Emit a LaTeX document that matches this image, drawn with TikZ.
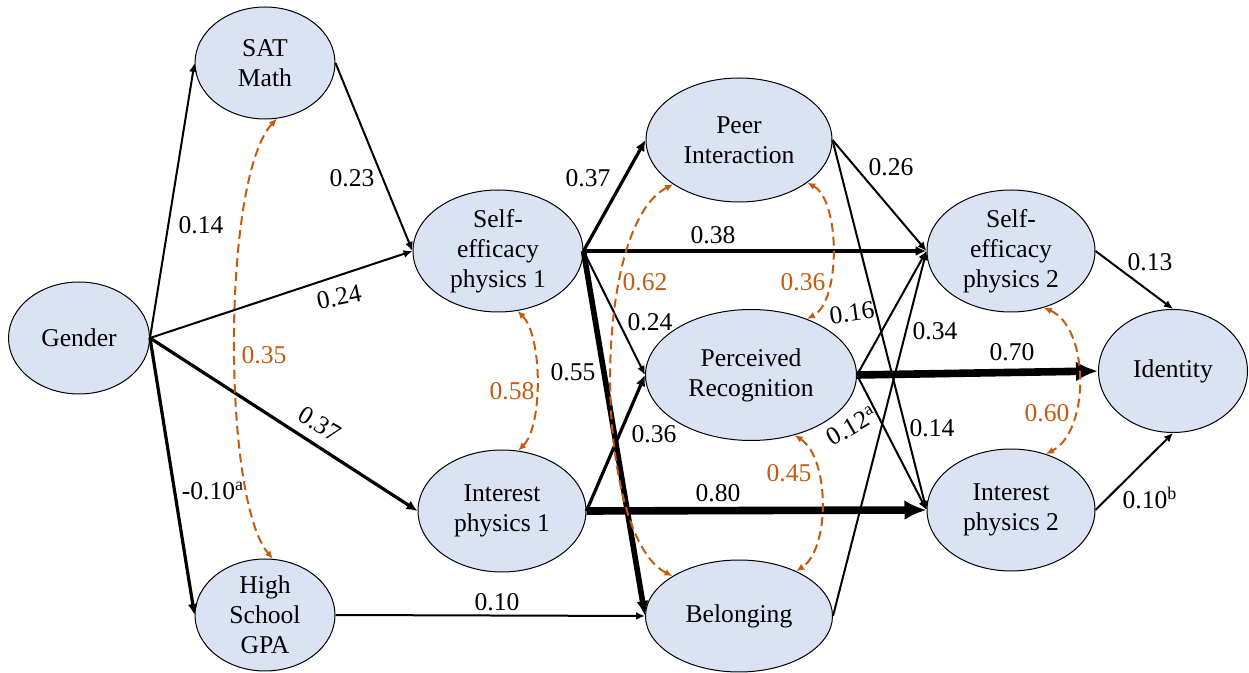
\documentclass[tikz,border=0pt]{standalone}
\usepackage{fontspec}
\setmainfont{Liberation Serif}
\usetikzlibrary{arrows.meta,shapes.geometric}
\definecolor{Ink}{HTML}{000000}
\definecolor{FactorFill}{HTML}{DAE3F3}
\definecolor{CovColor}{HTML}{C55A11}
\tikzset{
  factor/.style={ellipse, draw=Ink, fill=FactorFill, line width=0.5pt,
    align=center, text=Ink, font=\fontsize{12.8}{15}\selectfont,
    inner xsep=0pt, inner ysep=-4pt},
  light path/.style={-{Latex[length=4.5pt,width=4pt]}, draw=Ink, line width=1pt},
  mid path/.style={-{Latex[length=5.5pt,width=5pt]}, draw=Ink, line width=1.6pt},
  strong path/.style={-{Latex[length=7.5pt,width=6pt]}, draw=Ink, line width=2.8pt},
  heavy path/.style={-{Latex[length=11pt,width=10pt]}, draw=Ink, line width=3.8pt},
  cov path/.style={{Latex[length=4pt,width=3.5pt]}-{Latex[length=4pt,width=3.5pt]},
    draw=CovColor, line width=1pt, dash pattern=on 4.5pt off 2.5pt},
  coef/.style={font=\fontsize{12.8}{15}\selectfont, text=Ink, inner sep=1pt},
  cov coef/.style={coef, text=CovColor},
}

\begin{document}
\begin{tikzpicture}[x=0.5pt, y=-0.5pt]
  \useasboundingbox (0,0) rectangle (1249,673);

  % Background and prior achievement.
  \node[factor, minimum width=70.5pt, minimum height=56pt] (gender) at (79,338) {Gender};
  \node[factor, minimum width=70pt, minimum height=56pt] (satmath) at (265,63) {SAT\\Math};
  \node[factor, minimum width=70pt, minimum height=56pt] (hsgpa) at (265,615) {High\\School\\GPA};

  % First-semester attitudes.
  \node[factor, minimum width=85pt, minimum height=61pt] (selfeff1) at (498,251) {Self-\\efficacy\\physics 1};
  \node[factor, minimum width=84pt, minimum height=61pt] (interest1) at (502,511) {Interest\\physics 1};

  % Classroom experiences.
  \node[factor, minimum width=93pt, minimum height=62pt] (peer) at (739,140) {Peer\\Interaction};
  \node[factor, minimum width=105.5pt, minimum height=65.5pt] (recog) at (751,375) {Perceived\\Recognition};
  \node[factor, minimum width=93.5pt, minimum height=56pt] (belong) at (739,616) {Belonging};

  % Second-semester attitudes and outcome.
  \node[factor, minimum width=84pt, minimum height=61pt] (selfeff2) at (1011,251) {Self-\\efficacy\\physics 2};
  \node[factor, minimum width=84pt, minimum height=61pt] (interest2) at (1011,510) {Interest\\physics 2};
  \node[factor, minimum width=74.5pt, minimum height=61.5pt] (identity) at (1173,371) {Identity};

  % Regression paths, width scaled with the coefficient.
  \draw[light path] (gender.east) -- (satmath.west);
  \draw[light path] (gender.east) -- (selfeff1.west);
  \draw[mid path] (gender.east) -- (interest1.west);
  \draw[mid path] (gender.east) -- (hsgpa.west);
  \draw[light path] (satmath.east) -- (selfeff1.west);
  \draw[light path] (hsgpa.east) -- (belong.west);
  \draw[mid path] (selfeff1.east) -- (peer.west);
  \draw[mid path] (selfeff1.east) -- (selfeff2.west);
  \draw[light path] (selfeff1.east) -- (recog.west);
  \draw[strong path] (selfeff1.east) -- (belong.west);
  \draw[mid path] (interest1.east) -- (recog.west);
  \draw[heavy path] (interest1.east) -- (interest2.west);
  \draw[light path] (peer.east) -- (selfeff2.west);
  \draw[light path] (peer.east) -- (interest2.west);
  \draw[light path] (recog.east) -- (selfeff2.west);
  \draw[light path] (recog.east) -- (interest2.west);
  \draw[light path] (belong.east) -- (selfeff2.west);
  \draw[heavy path] (recog.east) -- (identity.west);
  \draw[light path] (selfeff2.east) -- (identity.north);
  \draw[light path] (interest2.east) -- (identity.south);

  % Residual covariances.
  \draw[cov path] (satmath.-78) .. controls +(-55,59) and +(-51,-60) .. (hsgpa.82);
  \draw[cov path] (selfeff1.-72) .. controls +(25,25) and +(25,-25) .. (interest1.75);
  \draw[cov path] (peer.-146) .. controls +(-84,43) and +(-79,-40) .. (belong.149);
  \draw[cov path] (peer.-32) .. controls +(33,18) and +(34,-18) .. (recog.45);
  \draw[cov path] (recog.-54) .. controls +(35,23) and +(34,-23) .. (belong.38);
  \draw[cov path] (selfeff2.-60) .. controls +(46,20) and +(44,-23) .. (interest2.58);

  % Path coefficients.
  \node[coef] (cGenSat) at (201,225) {0.14};
  \node[coef, rotate=11] (cGenSe) at (339,297) {0.24};
  \node[coef, rotate=-31] (cGenInt) at (320,424) {0.37};
  \node[coef] (cGenGpa) at (213,491) {-0.10\textsuperscript{a}};
  \node[coef] (cSatSe) at (352,178) {0.23};
  \node[coef] (cGpaBel) at (497,602) {0.10};
  \node[coef] (cSePeer) at (588,178) {0.37};
  \node[coef] (cSeSe) at (713,235) {0.38};
  \node[coef] (cSeRec) at (650,322) {0.24};
  \node[coef] (cSeBel) at (573,372) {0.55};
  \node[coef] (cIntRec) at (654,434) {0.36};
  \node[coef] (cIntInt) at (718,493) {0.80};
  \node[coef] (cPeerSe) at (891,167) {0.26};
  \node[coef, rotate=8] (cRecSe) at (852,313) {0.16};
  \node[coef] (cBelSe) at (935,331) {0.34};
  \node[coef, rotate=30] (cRecInt) at (852,426) {0.12\textsuperscript{a}};
  \node[coef] (cPeerInt) at (932,428) {0.14};
  \node[coef] (cRecId) at (1012,352) {0.70};
  \node[coef] (cSeId) at (1150,262) {0.13};
  \node[coef] (cIntId) at (1150,498) {0.10\textsuperscript{b}};

  % Covariance values.
  \node[cov coef] (vSatGpa) at (264,355) {0.35};
  \node[cov coef] (vSeInt) at (512,391) {0.58};
  \node[cov coef] (vPeerBel) at (645,282) {0.62};
  \node[cov coef] (vPeerRec) at (803,282) {0.36};
  \node[cov coef] (vRecBel) at (789,473) {0.45};
  \node[cov coef] (vSeInt2) at (1047,413) {0.60};
\end{tikzpicture}
\end{document}
